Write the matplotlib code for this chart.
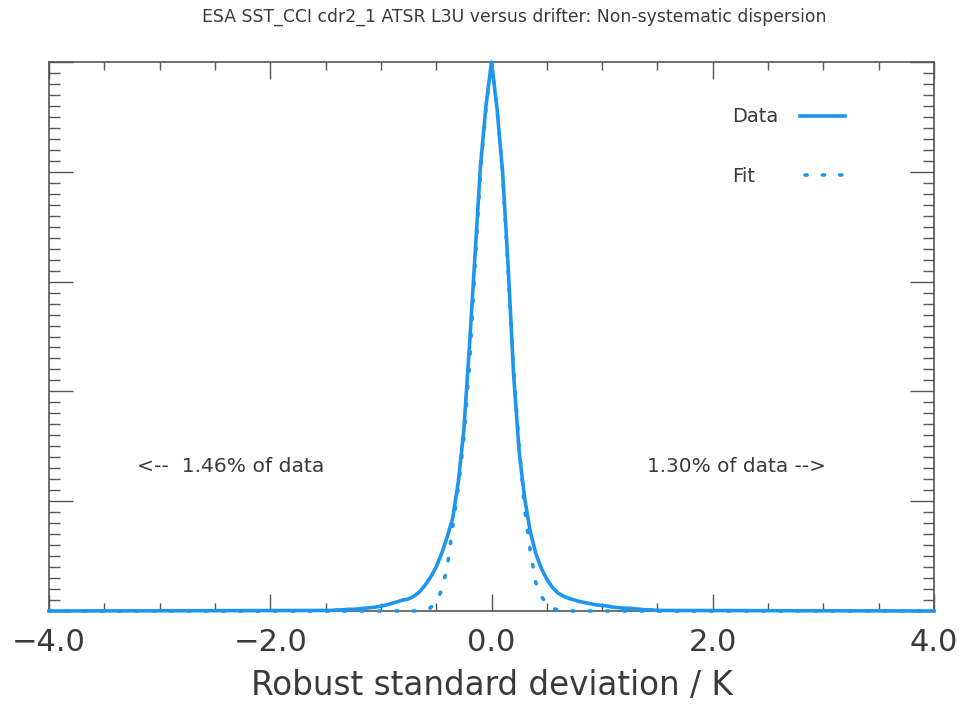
import matplotlib
matplotlib.use("Agg")
import matplotlib.pyplot as plt
from matplotlib.ticker import MultipleLocator
from matplotlib.lines import Line2D

# ---- data ----
data_x = [-4.0, -1.5, -1.45, -1.4, -1.35, -1.3, -1.25, -1.2, -1.15, -1.1, -1.05, -1.0,
          -0.95, -0.9, -0.85, -0.8, -0.75, -0.7, -0.65, -0.6, -0.55, -0.5, -0.45, -0.4,
          -0.35, -0.3, -0.25, -0.2, -0.15, -0.1, -0.05, 0.0,
          0.05, 0.1, 0.15, 0.2, 0.25, 0.3, 0.35, 0.4, 0.45, 0.5, 0.55, 0.6, 0.65, 0.7,
          0.75, 0.8, 0.85, 0.9, 0.95, 1.0, 1.05, 1.1, 1.15, 1.2, 1.25, 1.3, 1.35, 1.4,
          1.45, 1.5, 4.0]
data_y = [0.0, 0.001, 0.001, 0.002, 0.002, 0.003, 0.003, 0.004, 0.005, 0.006, 0.007, 0.009,
          0.011, 0.014, 0.017, 0.020, 0.022, 0.027, 0.035, 0.047, 0.062, 0.080, 0.105, 0.135,
          0.170, 0.235, 0.330, 0.480, 0.645, 0.810, 0.920, 1.000,
          0.915, 0.800, 0.630, 0.430, 0.290, 0.205, 0.145, 0.105, 0.078, 0.058, 0.043, 0.033,
          0.027, 0.023, 0.020, 0.017, 0.015, 0.013, 0.011, 0.010, 0.009, 0.007, 0.006, 0.005,
          0.005, 0.004, 0.003, 0.002, 0.002, 0.001, 0.0]

fit_x = [-4.0, -0.65, -0.6, -0.55, -0.5, -0.45, -0.4, -0.35, -0.3, -0.25, -0.2, -0.15, -0.1,
         -0.05, 0.0, 0.05, 0.1, 0.15, 0.2, 0.25, 0.3, 0.35, 0.4, 0.45, 0.5, 0.55, 0.6, 0.65, 4.0]
fit_y = [0.0, 0.0, 0.002, 0.006, 0.017, 0.038, 0.080, 0.155, 0.225, 0.315, 0.445, 0.625, 0.80,
         0.915, 1.0, 0.915, 0.80, 0.62, 0.44, 0.30, 0.185, 0.11, 0.052, 0.027, 0.012, 0.005,
         0.002, 0.0, 0.0]

title = "ESA SST_CCI cdr2_1 ATSR L3U versus drifter: Non-systematic dispersion"
xlabel = "Robust standard deviation / K"
left_note = "<--  1.46% of data"
right_note = "1.30% of data -->"
legend_labels = ["Data", "Fit"]
xtick_vals = [-4.0, -2.0, 0.0, 2.0, 4.0]
xtick_labels = ["\u22124.0", "\u22122.0", "0.0", "2.0", "4.0"]

blue = "#1f96ee"
axcol = "#555555"
txtcol = "#3a3a3a"
fit_style = (0, (0.6, 4.2))

plt.rcParams['font.family'] = ['DejaVu Sans']

fig = plt.figure(figsize=(9.61, 7.05), dpi=100)
ax = fig.add_axes([49/961, 1 - 611/705, (934-49)/961, (611-62)/705])

ax.plot(data_x, data_y, color=blue, lw=2.6, zorder=3, clip_on=False)
ax.plot(fit_x, fit_y, color=blue, lw=2.6, linestyle=fit_style,
        dash_capstyle='round', zorder=3, clip_on=False)

ax.set_xlim(-4, 4)
ax.set_ylim(0, 1)
ax.set_xticks(xtick_vals)
ax.set_xticklabels(xtick_labels, fontsize=22, color=txtcol)
ax.xaxis.set_minor_locator(MultipleLocator(0.5))
ax.yaxis.set_major_locator(MultipleLocator(0.2))
ax.yaxis.set_minor_locator(MultipleLocator(0.02))
ax.tick_params(axis='both', which='both', direction='in', top=True, right=True,
               color=axcol, width=1.0)
ax.tick_params(axis='x', which='major', length=12, pad=12)
ax.tick_params(axis='x', which='minor', length=6)
ax.tick_params(axis='y', which='major', length=17, labelleft=False)
ax.tick_params(axis='y', which='minor', length=8)
for s in ax.spines.values():
    s.set_color(axcol)
    s.set_linewidth(1.2)

ax.set_xlabel(xlabel, fontsize=23.5, color=txtcol, labelpad=9)

fig.text(514/961, 1 - 17/705, title, ha='center', va='center', fontsize=12.4, color=txtcol)

fig.text(137/961, 1 - 467/705, left_note, ha='left', va='center',
         fontsize=14.6, color=txtcol)
fig.text(826/961, 1 - 467/705, right_note, ha='right', va='center',
         fontsize=14.4, color=txtcol)

# manual legend (labels left-aligned, sample to the right)
fig.text(732/961, 1 - 117/705, legend_labels[0], ha='left', va='center', fontsize=14, color=txtcol)
fig.text(732/961, 1 - 176/705, legend_labels[1], ha='left', va='center', fontsize=14, color=txtcol)
fig.add_artist(Line2D([800/961, 845/961], [1 - 116/705, 1 - 116/705], transform=fig.transFigure,
                      color=blue, lw=2.6))
fig.add_artist(Line2D([805/961, 842/961], [1 - 175/705, 1 - 175/705], transform=fig.transFigure,
                      color=blue, lw=2.6, linestyle=fit_style, dash_capstyle='round'))

fig.savefig("out.png", dpi=100, facecolor='white')
